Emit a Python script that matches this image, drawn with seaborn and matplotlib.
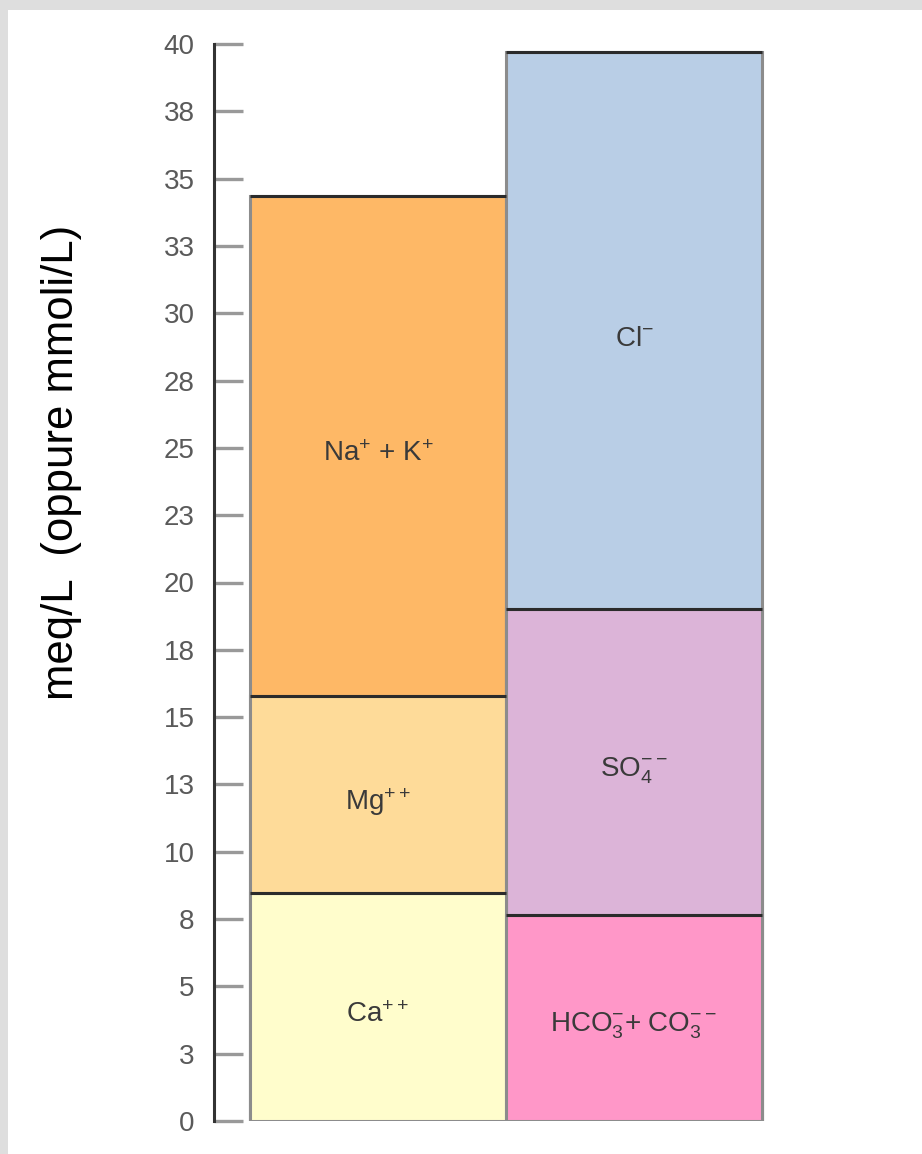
import numpy as np
import pandas as pd
import seaborn as sns
import matplotlib.pyplot as plt
from matplotlib.patches import Rectangle

# -------------------------------------------------
# DATA
# -------------------------------------------------

groups = ["Cationi", "Anioni"]

cation_values = [8.45, 7.35, 18.55]      # Ca, Mg, Na+K
anion_values = [7.65, 11.35, 20.7]       # HCO3+CO3, SO4, Cl

cation_labels = [r"Ca$^{++}$", r"Mg$^{++}$", r"Na$^{+}$ + K$^{+}$"]
anion_labels = [r"HCO$_3^{-}$+ CO$_3^{--}$", r"SO$_4^{--}$", r"Cl$^{-}$"]

cation_colors = ["#FFFDCC", "#FEDB99", "#FEB866"]
anion_colors = ["#FF97C8", "#DCB4D8", "#B9CEE6"]

ytick_values = [0, 2.5, 5, 7.5, 10, 12.5, 15, 17.5, 20, 22.5, 25, 27.5, 30, 32.5, 35, 37.5, 40]
ytick_labels = ["0", "3", "5", "8", "10", "13", "15", "18", "20", "23", "25", "28", "30", "33", "35", "38", "40"]

ylabel = "meq/L  (oppure mmoli/L)"

# -------------------------------------------------
# STYLE
# -------------------------------------------------

sns.set_style("white")
plt.rcParams["font.family"] = ["Liberation Sans", "DejaVu Sans"]
plt.rcParams["mathtext.default"] = "regular"

W, H = 922, 1154
fig = plt.figure(figsize=(W / 100, H / 100), dpi=100, facecolor="#dedede")
fig.patches.append(Rectangle((8 / W, 0), 1, 1 - 10 / H, transform=fig.transFigure,
                             facecolor="white", edgecolor="none", zorder=-10))

ax_left, ax_right, ax_top, ax_bottom = 214, 800, 44, 1121
ax = fig.add_axes([ax_left / W, 1 - ax_bottom / H, (ax_right - ax_left) / W, (ax_bottom - ax_top) / H])
ax.set_facecolor("none")

# -------------------------------------------------
# STACKED BARS (draw cumulative totals, tallest first)
# -------------------------------------------------

cat_top = np.cumsum(cation_values)
an_top = np.cumsum(anion_values)
cat_bottom = cat_top - np.array(cation_values)
an_bottom = an_top - np.array(anion_values)

for i in reversed(range(3)):
    layer = pd.DataFrame({"group": groups, "top": [cat_top[i], an_top[i]]})
    sns.barplot(
        data=layer, x="group", y="top", hue="group",
        palette={groups[0]: cation_colors[i], groups[1]: anion_colors[i]},
        width=1.0, edgecolor="#8c8c8c", linewidth=2.2, legend=False, ax=ax,
        saturation=1,
    )

label_drop = 0.3  # labels sit a touch below the segment middle
for i in range(3):
    ax.hlines(cat_top[i], -0.5, 0.5, color="#2b2b2b", linewidth=2.2, zorder=5)
    ax.hlines(an_top[i], 0.5, 1.5, color="#2b2b2b", linewidth=2.2, zorder=5)
    ax.text(0, (cat_bottom[i] + cat_top[i]) / 2 - label_drop, cation_labels[i], ha="center", va="center",
            fontsize=20, color="#3a3a3a", zorder=6)
    ax.text(1, (an_bottom[i] + an_top[i]) / 2 - label_drop, anion_labels[i], ha="center", va="center",
            fontsize=20, color="#3a3a3a", zorder=6)

# -------------------------------------------------
# AXES
# -------------------------------------------------

px_per_cat = 256
x0 = -0.5 - (250 - ax_left) / px_per_cat
ax.set_xlim(x0, x0 + (ax_right - ax_left) / px_per_cat)
ax.set_ylim(0, 40)

ax.set_yticks(ytick_values)
ax.set_yticklabels(ytick_labels)
ax.set_xticks([])
ax.set_xlabel("")

ax.tick_params(axis="y", direction="in", length=21, width=2.4, color="#999999",
               labelsize=20, labelcolor="#5a5a5a", pad=14, left=True)

for s in ["top", "right", "bottom"]:
    ax.spines[s].set_visible(False)
ax.spines["left"].set_color("#333333")
ax.spines["left"].set_linewidth(2.2)

ax.set_ylabel(ylabel, fontsize=31.5, color="black")
ax.yaxis.set_label_coords((82 - ax_left) / (ax_right - ax_left), (ax_bottom - 462) / (ax_bottom - ax_top))

fig.savefig("out.png", dpi=100, facecolor=fig.get_facecolor())
